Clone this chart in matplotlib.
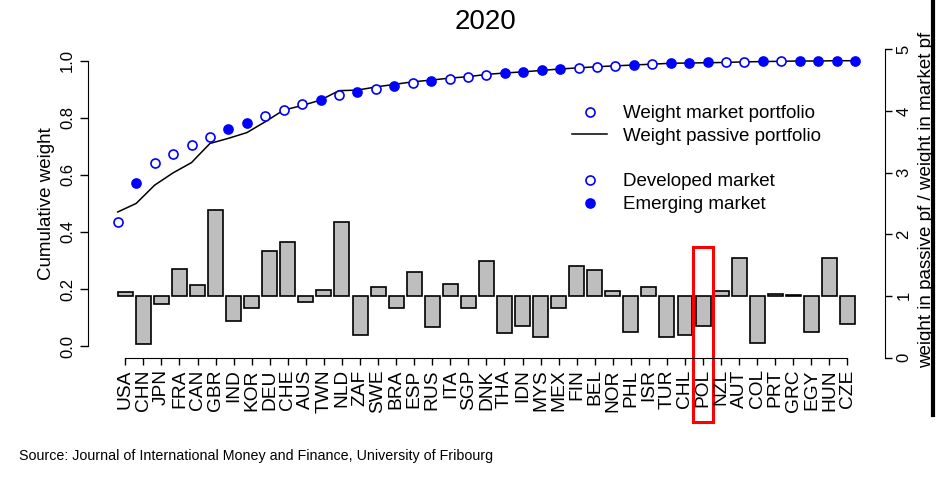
import matplotlib.pyplot as plt
from matplotlib.lines import Line2D
from matplotlib.patches import Rectangle

plt.rcParams["font.family"] = ["Liberation Sans", "DejaVu Sans"]

countries = ["USA", "CHN", "JPN", "FRA", "CAN", "GBR", "IND", "KOR", "DEU", "CHE",
             "AUS", "TWN", "NLD", "ZAF", "SWE", "BRA", "ESP", "RUS", "ITA", "SGP",
             "DNK", "THA", "IDN", "MYS", "MEX", "FIN", "BEL", "NOR", "PHL", "ISR",
             "TUR", "CHL", "POL", "NZL", "AUT", "COL", "PRT", "GRC", "EGY", "HUN",
             "CZE"]

# cumulative weight, market portfolio
market_cum = [0.435, 0.570, 0.643, 0.674, 0.703, 0.731, 0.759, 0.783, 0.806, 0.827,
              0.847, 0.863, 0.880, 0.890, 0.901, 0.912, 0.921, 0.929, 0.936, 0.943,
              0.950, 0.956, 0.961, 0.967, 0.972, 0.975, 0.979, 0.982, 0.986, 0.989,
              0.992, 0.993, 0.994, 0.995, 0.996, 0.998, 0.998, 0.999, 0.999, 1.000,
              1.000]

# cumulative weight, passive portfolio
passive_cum = [0.470, 0.500, 0.564, 0.607, 0.643, 0.710, 0.728, 0.748, 0.786, 0.827,
               0.843, 0.862, 0.895, 0.897, 0.908, 0.917, 0.926, 0.932, 0.939, 0.944,
               0.952, 0.957, 0.961, 0.966, 0.971, 0.975, 0.979, 0.982, 0.985, 0.988,
               0.991, 0.992, 0.993, 0.994, 0.996, 0.997, 0.998, 0.999, 0.999, 1.000,
               1.000]

# 1 = emerging market, 0 = developed market
emerging = [0, 1, 0, 0, 0, 0, 1, 1, 0, 0,
            0, 1, 0, 1, 0, 1, 0, 1, 0, 0,
            0, 1, 1, 1, 1, 0, 0, 0, 1, 0,
            1, 1, 1, 0, 0, 1, 0, 1, 1, 1,
            1]

# weight in passive pf / weight in market pf
ratio = [1.07, 0.216, 0.865, 1.43, 1.18, 2.39, 0.595, 0.81, 1.735, 1.876,
         0.90, 1.10, 2.20, 0.373, 1.146, 0.795, 1.395, 0.497, 1.20, 0.80,
         1.56, 0.405, 0.514, 0.335, 0.805, 1.48, 1.42, 1.08, 0.416, 1.15,
         0.335, 0.373, 0.514, 1.076, 1.61, 0.243, 1.03, 1.02, 0.41, 1.616,
         0.54]

highlight = "POL"

W, H = 948, 484
fig = plt.figure(figsize=(W / 100, H / 100), dpi=100)
x0, x1, y0, y1 = 88.3, 884.5, 49.3, 357.5
rect = [x0 / W, 1 - y1 / H, (x1 - x0) / W, (y1 - y0) / H]

# bars, right axis
ax_bar = fig.add_axes(rect)
idx = list(range(len(countries)))
ax_bar.bar(idx, [r - 1 for r in ratio], bottom=1, width=0.83,
           color="#BEBEBE", edgecolor="black", linewidth=1.2)
ax_bar.set_xlim(-2.05, 42.05)
ax_bar.set_ylim(0, 5)
ax_bar.spines["top"].set_visible(False)
ax_bar.spines["left"].set_visible(False)
ax_bar.spines["right"].set_bounds(0, 5)
ax_bar.spines["bottom"].set_bounds(0, len(countries) - 1)
ax_bar.yaxis.tick_right()
ax_bar.yaxis.set_label_position("right")
ax_bar.set_yticks(range(6))
ax_bar.set_xticks(idx)
ax_bar.set_xticklabels(countries, rotation=90, fontsize=13.8)
ax_bar.tick_params(axis="x", length=5, width=1, pad=3.5)
ax_bar.tick_params(axis="y", length=5, width=1, pad=3.5, labelsize=12)
for lab in ax_bar.get_yticklabels():
    lab.set_rotation(90)
    lab.set_va("center")
ax_bar.set_ylabel("weight in passive pf / weight in market pf", fontsize=13.5,
                  va="center")
ax_bar.yaxis.set_label_coords(1.0534, 0.513)

k = countries.index(highlight)
ax_bar.add_patch(Rectangle((k - 0.57, -1.04), 1.14, 2.83, fill=False,
                           edgecolor="#FF0000", linewidth=2.2, clip_on=False))

# cumulative weights, left axis
ax = fig.add_axes(rect)
ax.patch.set_visible(False)
ax.plot(idx, passive_cum, color="black", linewidth=1.1)
dev_x = [i for i in idx if not emerging[i]]
em_x = [i for i in idx if emerging[i]]
ax.plot(dev_x, [market_cum[i] for i in dev_x], "o", mfc="white", mec="#0000FF",
        ms=6.5, mew=1.2)
ax.plot(em_x, [market_cum[i] for i in em_x], "o", mfc="#0000FF", mec="#0000FF",
        ms=6.5, mew=1.2)
ax.set_xlim(-1.6, 41.6)
ax.set_ylim(-0.04, 1.04)
for s in ["top", "right", "bottom"]:
    ax.spines[s].set_visible(False)
ax.spines["left"].set_bounds(0, 1)
ax.set_xticks([])
ax.set_yticks([0, 0.2, 0.4, 0.6, 0.8, 1.0])
ax.set_yticklabels(["0.0", "0.2", "0.4", "0.6", "0.8", "1.0"])
ax.tick_params(axis="y", length=6, width=1, pad=3.5, labelsize=12)
for lab in ax.get_yticklabels():
    lab.set_rotation(90)
    lab.set_va("center")
ax.set_ylabel("Cumulative weight", fontsize=13.5, va="center")
ax.yaxis.set_label_coords(-0.0531, 0.5)

handles = [
    Line2D([], [], ls="none", marker="o", mfc="white", mec="#0000FF", ms=6.5, mew=1.2),
    Line2D([], [], color="black", linewidth=1.1),
    Line2D([], [], ls="none"),
    Line2D([], [], ls="none", marker="o", mfc="white", mec="#0000FF", ms=6.5, mew=1.2),
    Line2D([], [], ls="none", marker="o", mfc="#0000FF", mec="#0000FF", ms=6.5, mew=1.2),
]
labels = ["Weight market portfolio", "Weight passive portfolio", " ",
          "Developed market", "Emerging market"]
ax.legend(handles, labels, loc="upper left", bbox_to_anchor=(572 / W, 1 - 105 / H),
          bbox_transform=fig.transFigure, frameon=False, fontsize=13.5,
          borderpad=0, borderaxespad=0, handlelength=1.87, handletextpad=0.85,
          labelspacing=0.3)

fig.text(485.5 / W, 1 - 22 / H, "2020", fontsize=20, ha="center", va="center")
fig.text(19 / W, 1 - 456 / H,
         "Source: Journal of International Money and Finance, University of Fribourg",
         fontsize=10.3, ha="left", va="center")
fig.add_artist(Line2D([933 / W, 933 / W], [1, 1 - 415 / H], color="black",
                      linewidth=3, transform=fig.transFigure))

fig.savefig("out.png", dpi=100)
